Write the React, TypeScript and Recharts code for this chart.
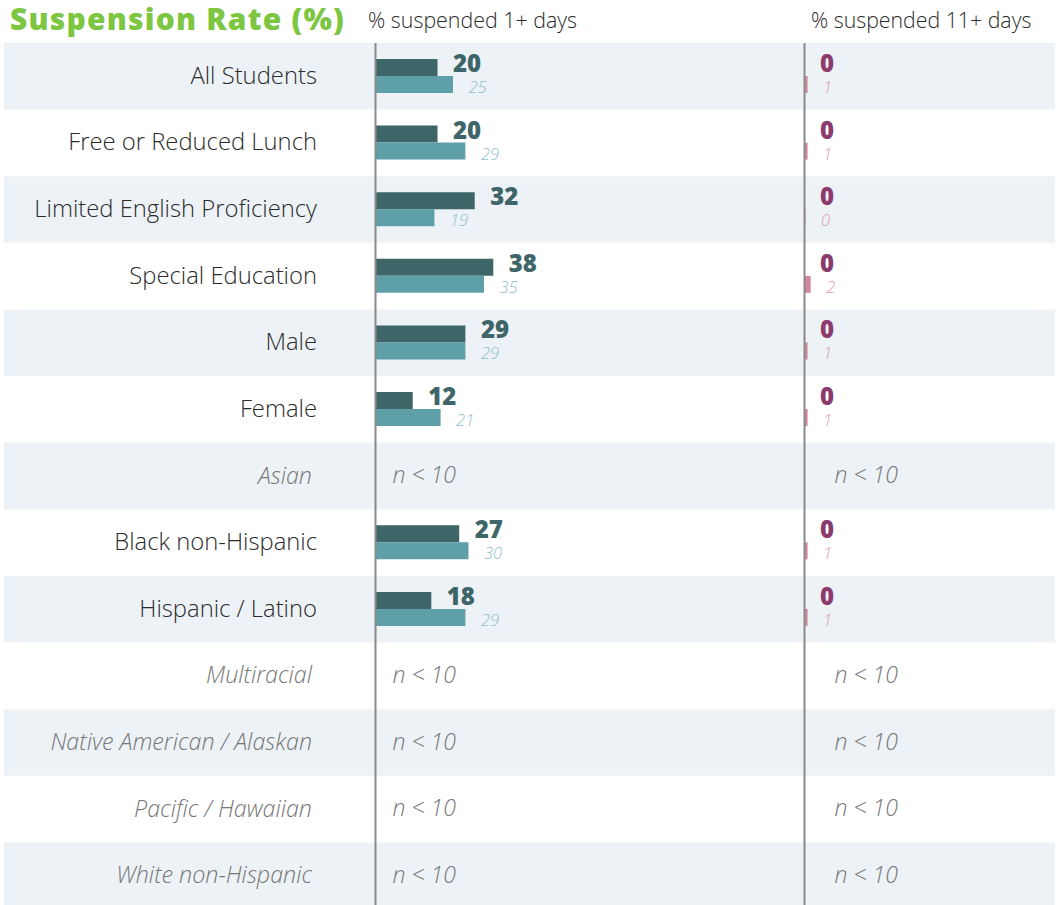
import React from 'react';
import { BarChart, Bar, XAxis, YAxis, ReferenceArea, ReferenceLine, LabelList } from 'recharts';

// ---------- data ----------
const categories = [
  'All Students',
  'Free or Reduced Lunch',
  'Limited English Proficiency',
  'Special Education',
  'Male',
  'Female',
  'Asian',
  'Black non-Hispanic',
  'Hispanic / Latino',
  'Multiracial',
  'Native American / Alaskan',
  'Pacific / Hawaiian',
  'White non-Hispanic',
];
// null = group too small to report (n < 10)
const suspended1School: (number | null)[] = [20, 20, 32, 38, 29, 12, null, 27, 18, null, null, null, null];
const suspended1Compare: (number | null)[] = [25, 29, 19, 35, 29, 21, null, 30, 29, null, null, null, null];
const suspended11School: (number | null)[] = [0, 0, 0, 0, 0, 0, null, 0, 0, null, null, null, null];
const suspended11Compare: (number | null)[] = [1, 1, 0, 2, 1, 1, null, 1, 1, null, null, null, null];

const titleText = 'Suspension Rate (%)';
const header1 = '% suspended 1+ days';
const header11 = '% suspended 11+ days';
const smallGroupText = 'n < 10';

// ---------- styling / layout ----------
const W = 1063;
const H = 910;
const PLOT_LEFT = 4;
const PLOT_RIGHT = 1055;
const ORIGIN_L = 375.5;
const ORIGIN_R = 804.5;
const PX_PER_UNIT = 3.1;
const LABEL_RIGHT = 317;

const FONT = "'Open Sans', 'Noto Sans', sans-serif";
const C_DARK = '#3e6567';
const C_LIGHT = '#5f9fa7';
const C_LIGHT_LABEL = '#8dc0c5';
const C_PURPLE = '#8b3b6e';
const C_PINK = '#d4879e';
const C_PINK_LABEL = '#dc9cb3';
const C_BG = '#edf2f6';
const C_AXIS = '#8a8a8a';
const C_GREEN = '#7cc642';

const rows = categories.map((name, i) => {
  const small = suspended1School[i] == null;
  return {
    name,
    small,
    s1: suspended1School[i] ?? 0,
    c1: suspended1Compare[i] ?? 0,
    s11: suspended11School[i] ?? 0,
    c11: suspended11Compare[i] ?? 0,
    s1Label: small ? smallGroupText : String(suspended1School[i]),
    c1Label: small ? '' : String(suspended1Compare[i]),
    s11Label: small ? smallGroupText : String(suspended11School[i]),
    c11Label: small ? '' : String(suspended11Compare[i]),
  };
});

const domainL: [number, number] = [-(ORIGIN_L - PLOT_LEFT) / PX_PER_UNIT, (PLOT_RIGHT - ORIGIN_L) / PX_PER_UNIT];
const domainR: [number, number] = [-(ORIGIN_R - PLOT_LEFT) / PX_PER_UNIT, (PLOT_RIGHT - ORIGIN_R) / PX_PER_UNIT];

const getBox = (props: any) => {
  const vb = props.viewBox && props.viewBox.width !== undefined ? props.viewBox : props;
  return { x: Number(vb.x), y: Number(vb.y), width: Number(vb.width), height: Number(vb.height) };
};

const makeValueLabel = (color: string, smallOffset: number) => (props: any) => {
  const { x, y, width, height } = getBox(props);
  const value = props.value;
  if (value === smallGroupText) {
    return (
      <text
        x={x + smallOffset}
        y={y + height + 7.5}
        fill="#777"
        fontFamily={FONT}
        fontStyle="italic"
        fontWeight={300}
        fontSize={23}
      >
        {smallGroupText}
      </text>
    );
  }
  return (
    <text
      x={x + width + 15.5}
      y={y + height / 2 + 4.5}
      fill={color}
      fontFamily={FONT}
      fontWeight={800}
      fontSize={24}
    >
      {value}
    </text>
  );
};

const makeCompareLabel = (color: string) => (props: any) => {
  const { x, y, width, height } = getBox(props);
  const value = props.value;
  if (value === '' || value == null) return null;
  return (
    <text
      x={x + width + 15.5}
      y={y + height / 2 + 8.5}
      fill={color}
      fontFamily={FONT}
      fontStyle="italic"
      fontWeight={300}
      fontSize={16.5}
    >
      {value}
    </text>
  );
};

const RowLabel = (props: any) => {
  const { y, payload } = props;
  const idx = categories.indexOf(payload.value);
  const small = idx >= 0 && rows[idx].small;
  return (
    <text
      x={small ? LABEL_RIGHT - 5 : LABEL_RIGHT}
      y={y + 7.5}
      textAnchor="end"
      fill={small ? '#777' : '#2b2b2b'}
      fontFamily={FONT}
      fontStyle={small ? 'italic' : 'normal'}
      fontWeight={300}
      fontSize={small ? 23.3 : 23.8}
    >
      {payload.value}
    </text>
  );
};

const minSizeRight = (_value: any, index: number) => (rows[index] && !rows[index].small ? 1 : 0);

export default function App() {
  return (
    <div
      style={{
        position: 'absolute',
        left: 0,
        top: 0,
        width: W,
        height: 905,
        overflow: 'hidden',
        background: '#fff',
      }}
    >
      <BarChart
        width={W}
        height={H}
        data={rows}
        layout="vertical"
        margin={{ top: 43, right: W - PLOT_RIGHT, bottom: 1, left: PLOT_LEFT - 1 }}
        barGap={0}
        barSize={17}
      >
        <XAxis xAxisId="l" type="number" domain={domainL} allowDataOverflow hide />
        <XAxis xAxisId="r" type="number" domain={domainR} allowDataOverflow hide />
        <YAxis
          yAxisId="l"
          type="category"
          dataKey="name"
          width={1}
          interval={0}
          axisLine={false}
          tickLine={false}
          tick={<RowLabel />}
        />
        <YAxis yAxisId="r" type="category" dataKey="name" hide />
        {categories
          .filter((_, i) => i % 2 === 0)
          .map((c) => (
            <ReferenceArea
              key={c}
              xAxisId="l"
              yAxisId="l"
              y1={c}
              y2={c}
              fill={C_BG}
              fillOpacity={1}
              stroke="none"
              ifOverflow="visible"
            />
          ))}
        <ReferenceLine xAxisId="l" yAxisId="l" x={0} stroke={C_AXIS} strokeWidth={2} ifOverflow="visible" />
        <ReferenceLine xAxisId="r" yAxisId="l" x={0} stroke={C_AXIS} strokeWidth={2} ifOverflow="visible" />
        <Bar xAxisId="l" yAxisId="l" dataKey="s1" fill={C_DARK} minPointSize={0.01} isAnimationActive={false}>
          <LabelList dataKey="s1Label" content={makeValueLabel(C_DARK, 17)} />
        </Bar>
        <Bar xAxisId="l" yAxisId="l" dataKey="c1" fill={C_LIGHT} isAnimationActive={false}>
          <LabelList dataKey="c1Label" content={makeCompareLabel(C_LIGHT_LABEL)} />
        </Bar>
        <Bar xAxisId="r" yAxisId="r" dataKey="s11" fill={C_PURPLE} minPointSize={0.01} isAnimationActive={false}>
          <LabelList dataKey="s11Label" content={makeValueLabel(C_PURPLE, 30)} />
        </Bar>
        <Bar xAxisId="r" yAxisId="r" dataKey="c11" fill={C_PINK} minPointSize={minSizeRight} isAnimationActive={false}>
          <LabelList dataKey="c11Label" content={makeCompareLabel(C_PINK_LABEL)} />
        </Bar>
      </BarChart>
      <svg
        width={W}
        height={42}
        style={{ position: 'absolute', left: 0, top: 0, pointerEvents: 'none' }}
      >
        <text x={10} y={29.5} fill={C_GREEN} fontFamily={FONT} fontWeight={800} fontSize={30} letterSpacing={1.2}>
          {titleText}
        </text>
        <text x={368} y={28} fill="#2b2b2b" fontFamily={FONT} fontWeight={300} fontSize={21.4}>
          {header1}
        </text>
        <text x={811} y={28} fill="#2b2b2b" fontFamily={FONT} fontWeight={300} fontSize={21.3}>
          {header11}
        </text>
      </svg>
    </div>
  );
}
